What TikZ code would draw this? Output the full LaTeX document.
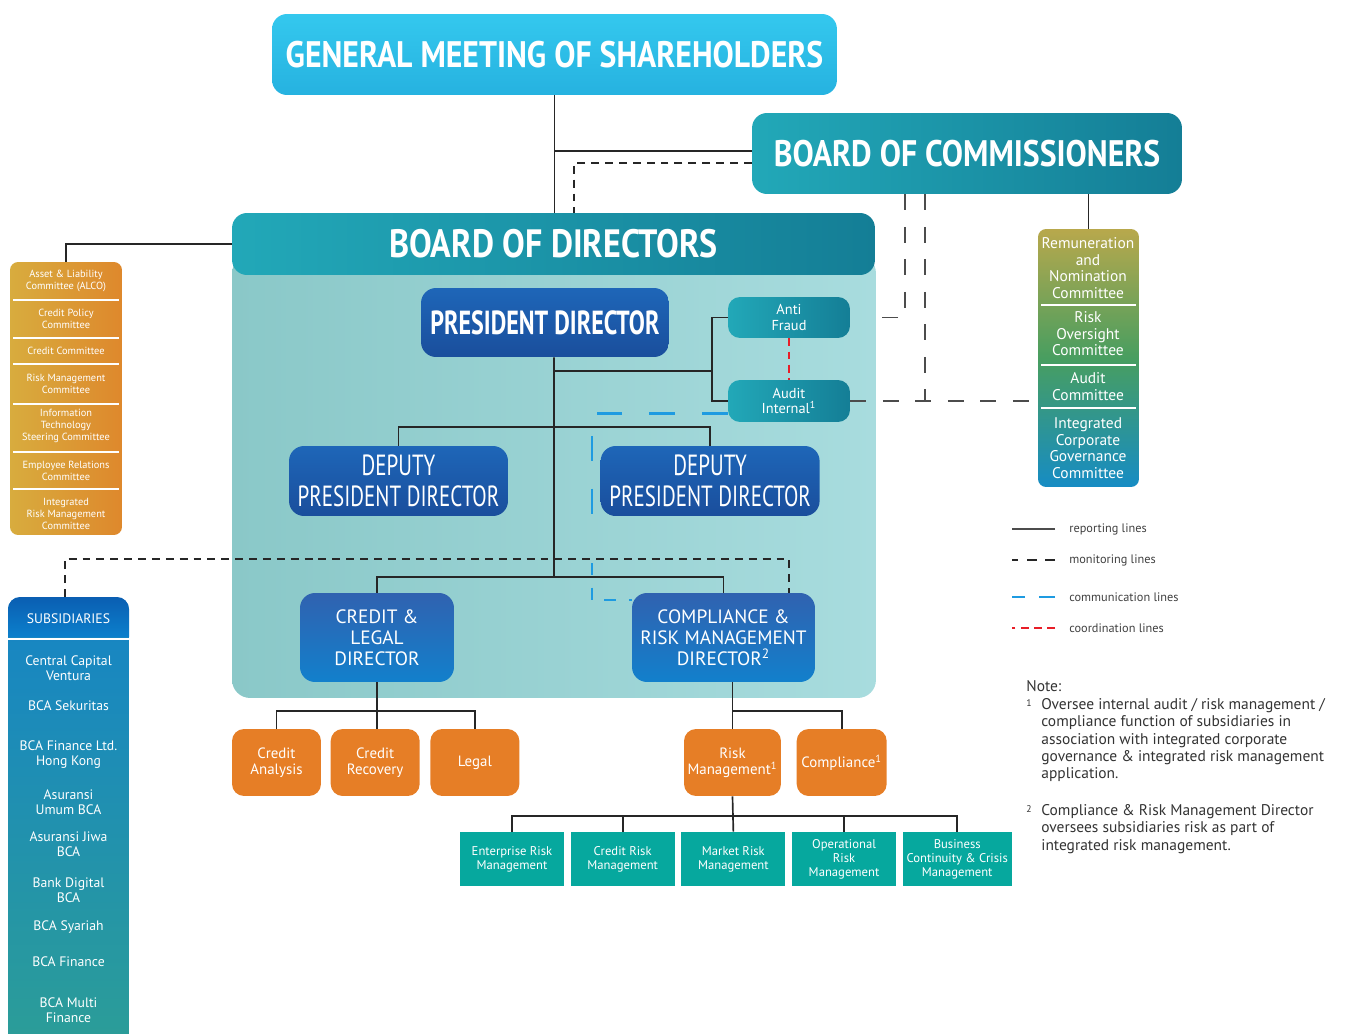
\documentclass[tikz,border=0pt]{standalone}
\usepackage{fontspec}
\setmainfont{PT Sans}
\newfontfamily\condfont[FakeStretch=0.72]{PT Sans}
\newfontfamily\headfont[FakeStretch=0.86]{PT Sans}
\usepackage{tikz}
\usetikzlibrary{positioning}

\definecolor{gmsA}{RGB}{52,200,238}
\definecolor{gmsB}{RGB}{38,178,224}
\definecolor{tealA}{RGB}{34,168,184}
\definecolor{tealB}{RGB}{20,126,150}
\definecolor{panelA}{RGB}{138,200,200}
\definecolor{panelB}{RGB}{168,220,222}
\definecolor{dirA}{RGB}{30,102,184}
\definecolor{dirB}{RGB}{26,78,156}
\definecolor{dirC}{RGB}{48,98,176}
\definecolor{dirD}{RGB}{18,128,204}
\definecolor{unitorange}{RGB}{230,126,38}
\definecolor{riskteal}{RGB}{6,168,158}
\definecolor{goldA}{RGB}{216,172,62}
\definecolor{goldB}{RGB}{222,136,44}
\definecolor{oliveA}{RGB}{184,168,76}
\definecolor{greenB}{RGB}{72,158,96}
\definecolor{blueC}{RGB}{22,140,196}
\definecolor{subA}{RGB}{10,94,178}
\definecolor{subB}{RGB}{12,128,204}
\definecolor{subC}{RGB}{22,132,198}
\definecolor{subD}{RGB}{44,158,150}
\definecolor{commblue}{RGB}{30,155,225}
\definecolor{coordred}{RGB}{232,30,40}

\tikzset{
    head/.style={rounded corners=0.3cm, text=white, inner sep=0pt, align=center,
        font=\headfont\bfseries\fontsize{21}{24}\selectfont},
    director/.style={rounded corners=0.3cm, text=white, inner sep=0pt, align=center},
    unit/.style={rounded corners=0.24cm, fill=unitorange, text=white, inner sep=0pt, align=center,
        minimum height=1.34cm, font=\fontsize{8.5}{9.2}\selectfont},
    riskunit/.style={fill=riskteal, text=white, inner sep=0pt, align=center,
        minimum width=2.08cm, minimum height=1.08cm, font=\fontsize{7.2}{8}\selectfont},
    smallbox/.style={rounded corners=0.24cm, left color=tealA, right color=tealB, text=white,
        inner sep=0pt, align=center, minimum width=2.44cm, font=\fontsize{8.2}{9}\selectfont},
    lefttext/.style={text=white, align=center, inner sep=0pt, font=\fontsize{5.9}{6.8}\selectfont},
    righttext/.style={text=white, align=center, inner sep=0pt, font=\fontsize{8.8}{9.4}\selectfont},
    subtext/.style={text=white, align=center, inner sep=0pt, font=\fontsize{7.8}{8.6}\selectfont},
    keytext/.style={anchor=west, inner sep=0pt, text=black!75, font=\fontsize{7}{8}\selectfont},
    notetext/.style={anchor=north west, inner sep=0pt, align=left, text=black!80,
        font=\fontsize{8.8}{9.9}\selectfont},
    sepline/.style={draw=white, line width=0.9pt},
    report/.style={draw=black!85, line width=0.95pt},
    monitor/.style={draw=black!85, line width=0.95pt, dash pattern=on 4.5pt off 3.4pt},
    longmon/.style={draw=black!70, line width=0.8pt, dash pattern=on 9pt off 9.5pt},
    comm/.style={draw=commblue, line width=1.2pt, dash pattern=on 14.5pt off 15.5pt},
    coordline/.style={draw=coordred, line width=1.6pt, dash pattern=on 4.5pt off 3pt}
}

\begin{document}
\begin{tikzpicture}[x=0.02cm, y=-0.02cm]
    \useasboundingbox (0,0) rectangle (1350,1034);

    \node[rounded corners=0.36cm, left color=panelA, right color=panelB, minimum width=12.88cm,
        minimum height=8.86cm, inner sep=0pt] (panel) at (554,476.5) {};

    \node[head, top color=gmsA, bottom color=gmsB, minimum width=11.3cm, minimum height=1.62cm]
        (gms) at (554.5,54.5) {GENERAL MEETING OF SHAREHOLDERS};
    \node[head, left color=tealA, right color=tealB, minimum width=8.6cm, minimum height=1.62cm]
        (boc) at (967,153.5) {BOARD OF COMMISSIONERS};
    \node[head, left color=tealA, right color=tealB, minimum width=12.86cm, minimum height=1.24cm,
        font=\headfont\bfseries\fontsize{22.5}{24}\selectfont] (bod) at (553.5,244) {BOARD OF DIRECTORS};

    \node[director, top color=dirA, bottom color=dirB, minimum width=4.96cm, minimum height=1.38cm,
        font=\condfont\bfseries\fontsize{19}{20}\selectfont] (pres) at (545,322.5) {PRESIDENT DIRECTOR};
    \node[smallbox, minimum height=0.82cm] (antifraud) at (789,317.5) {Anti\\Fraud};
    \node[smallbox, minimum height=0.84cm] (audit) at (789,401) {Audit\\Internal\textsuperscript{1}};

    \node[director, top color=dirA, bottom color=dirB, minimum width=4.38cm, minimum height=1.4cm,
        font=\condfont\fontsize{16.6}{17.4}\selectfont] (dep1) at (398.5,481) {DEPUTY\\PRESIDENT DIRECTOR};
    \node[director, top color=dirA, bottom color=dirB, minimum width=4.38cm, minimum height=1.4cm,
        font=\condfont\fontsize{16.6}{17.4}\selectfont, right=1.84cm of dep1] (dep2) {DEPUTY\\PRESIDENT DIRECTOR};

    \node[director, top color=dirC, bottom color=dirD, minimum width=3.08cm, minimum height=1.78cm,
        font=\fontsize{11}{12}\selectfont] (credit) at (377,637.5) {CREDIT \&\\LEGAL\\DIRECTOR};
    \node[director, top color=dirC, bottom color=dirD, minimum width=3.66cm, minimum height=1.78cm,
        font=\fontsize{11}{12}\selectfont] (compl) at (723.5,637.5) {COMPLIANCE \&\\RISK MANAGEMENT\\DIRECTOR\textsuperscript{2}};

    \node[unit, minimum width=1.78cm] (credan) at (276.5,762.5) {Credit\\Analysis};
    \node[unit, minimum width=1.78cm, right=0.18cm of credan] (credrec) {Credit\\Recovery};
    \node[unit, minimum width=1.78cm, right=0.2cm of credrec] (legal) {Legal};
    \node[unit, minimum width=1.94cm] (riskm) at (732.5,762.5) {Risk\\Management\textsuperscript{1}};
    \node[unit, minimum width=1.8cm, right=0.3cm of riskm] (compliance) {Compliance\textsuperscript{1}};

    \node[riskunit] (erm) at (512,859) {Enterprise Risk\\Management};
    \node[riskunit, right=0.12cm of erm] (crm) {Credit Risk\\Management};
    \node[riskunit, right=0.12cm of crm] (market) {Market Risk\\Management};
    \node[riskunit, right=0.12cm of market] (orm) {Operational\\Risk\\Management};
    \node[riskunit, minimum width=2.18cm, right=0.12cm of orm] (bcm) {Business\\Continuity \& Crisis\\Management};

    \node[rounded corners=0.16cm, left color=goldA, right color=goldB, minimum width=2.24cm,
        minimum height=5.46cm, inner sep=0pt] (lstack) at (66,398.5) {};
    \foreach \y in {300,338,364,404,452,489}
        \draw[sepline] (13,\y) -- (119,\y);
    \node[lefttext] (alco) at (66,281) {Asset \& Liability\\Committee (ALCO)};
    \node[lefttext] (cpc) at (66,319) {Credit Policy\\Committee};
    \node[lefttext] (cc) at (66,351) {Credit Committee};
    \node[lefttext] (rmc) at (66,384) {Risk Management\\Committee};
    \node[lefttext] (itsc) at (66,426) {Information\\Technology\\Steering Committee};
    \node[lefttext] (erc) at (66,471) {Employee Relations\\Committee};
    \node[lefttext] (irmc) at (66,514) {Integrated\\Risk Management\\Committee};

    \node[rounded corners=0.16cm, top color=oliveA, bottom color=blueC, middle color=greenB,
        minimum width=2.02cm, minimum height=5.16cm, inner sep=0pt] (rstack) at (1088.5,358) {};
    \foreach \y in {305,365,408}
        \draw[sepline] (1041,\y) -- (1136,\y);
    \node[righttext] (rnc) at (1088,268) {Remuneration\\and\\Nomination\\Committee};
    \node[righttext] (roc) at (1088,334) {Risk\\Oversight\\Committee};
    \node[righttext] (ac) at (1088,386.5) {Audit\\Committee};
    \node[righttext] (icgc) at (1088,448) {Integrated\\Corporate\\Governance\\Committee};

    \node[rounded corners=0.24cm, top color=subC, bottom color=subD, minimum width=2.42cm,
        minimum height=9.26cm, inner sep=0pt, anchor=north] (subs) at (68.5,597) {};
    \path[top color=subA, bottom color=subB] (8,637) [rounded corners=0.24cm] -- (8,597) -- (129,597)
        [sharp corners] -- (129,637) -- cycle;
    \draw[sepline, line width=1.4pt] (8,639) -- (129,639);
    \node[subtext] (subshead) at (68.5,619) {SUBSIDIARIES};
    \node[subtext] (ccv) at (68.5,668) {Central Capital\\Ventura};
    \node[subtext] (sek) at (68.5,706) {BCA Sekuritas};
    \node[subtext] (hk) at (68.5,755) {BCA Finance Ltd.\\Hong Kong};
    \node[subtext] (umum) at (68.5,802) {Asuransi\\Umum BCA};
    \node[subtext] (jiwa) at (68.5,844) {Asuransi Jiwa\\BCA};
    \node[subtext] (digital) at (68.5,890) {Bank Digital\\BCA};
    \node[subtext] (syariah) at (68.5,927) {BCA Syariah};
    \node[subtext] (finance) at (68.5,962) {BCA Finance};
    \node[subtext] (multi) at (68.5,1010) {BCA Multi\\Finance};

    \coordinate (s0) at (554,371);
    \coordinate (s1) at (554,427);
    \coordinate (s2) at (554,577);
    \coordinate (afbus) at (712,371);
    \coordinate (cbus) at (376,711);
    \coordinate (rbus) at (732,711);
    \coordinate (tbus) at (732,816);
    \coordinate (mon) at (789,559);
    \coordinate (c1) at (592,525);
    \coordinate (c2) at (592,563);

    \draw[report] (gms.south) -- (gms.south |- bod.north);
    \draw[report] ([yshift=0.05cm]boc.west) -| (gms.south);
    \draw[monitor] ([yshift=-0.19cm]boc.west) -| ([xshift=0.41cm]bod.north);
    \draw[report] (bod.west) -| (lstack.north);
    \draw[report] (boc.south -| rstack.north) -- (rstack.north);

    \draw[longmon] ([xshift=-1.24cm]boc.south) |- (panel.east |- antifraud.center);
    \draw[longmon] ([xshift=-0.84cm]boc.south) -- ([xshift=-0.84cm]boc.south |- audit.east);
    \draw[longmon] (audit.east) -- (audit.east -| rstack.west);

    \draw[report] ([xshift=0.18cm]pres.south) -- (s2);
    \draw[report] (s0) -- (afbus);
    \draw[report] (antifraud.west) -| (afbus) |- (audit.west);
    \draw[coordline] (antifraud.south) -- (audit.north);
    \draw[report] (dep1.north) |- (s1) -| (dep2.north);
    \draw[report] (credit.north) |- (s2) -| (compl.north);

    \draw[comm] ([yshift=-0.25cm]audit.west) -| (c1);
    \draw[comm, dash pattern=on 7pt off 7pt] (c2) |- ([yshift=0.75cm]compl.west);
    \draw[monitor] ([xshift=-0.07cm]subs.north) |- (mon) -- (mon |- compl.north);

    \draw[report] (credit.south) -- (credit.south |- credrec.north);
    \draw[report] (credan.north) |- (cbus) -| (legal.north);
    \draw[report] (riskm.north |- compl.south) -- (riskm.north);
    \draw[report] (rbus) -| (compliance.north);
    \draw[report] (riskm.south) -- (market.north);
    \draw[report] (erm.north) |- (tbus) -| (bcm.north);
    \draw[report] (crm.north) -- (crm.north |- tbus);
    \draw[report] (orm.north) -- (orm.north |- tbus);

    \node[keytext] (lrep) at (1069,529) {reporting lines};
    \node[keytext] (lmon) at (1069,560) {monitoring lines};
    \node[keytext] (lcom) at (1069,597) {communication lines};
    \node[keytext] (lcoo) at (1069,628) {coordination lines};
    \draw[report, draw=black!70, line width=0.7pt] (lrep.west) ++(-0.28cm,0) -- ++(-0.86cm,0);
    \draw[monitor, dash pattern=on 5.5pt off 5pt] (lmon.west) ++(-0.28cm,0) -- ++(-0.86cm,0);
    \draw[comm, dash pattern=on 9pt off 8pt] (lcom.west) ++(-0.28cm,0) -- ++(-0.86cm,0);
    \draw[coordline, line width=1.1pt, dash pattern=on 4.5pt off 3pt] (lcoo.west) ++(-0.28cm,0) -- ++(-0.86cm,0);

    \node[notetext] (note) at (1026,680) {Note:};
    \node[notetext, font=\fontsize{5.5}{6}\selectfont] (n1mark) at (1026,699) {1};
    \node[notetext] (note1) at (1041,698) {Oversee internal audit / risk management /\\compliance function of subsidiaries in\\association with integrated corporate\\governance \& integrated risk management\\application.};
    \node[notetext, font=\fontsize{5.5}{6}\selectfont] (n2mark) at (1026,805) {2};
    \node[notetext] (note2) at (1041,804) {Compliance \& Risk Management Director\\oversees subsidiaries risk as part of\\integrated risk management.};
\end{tikzpicture}
\end{document}
